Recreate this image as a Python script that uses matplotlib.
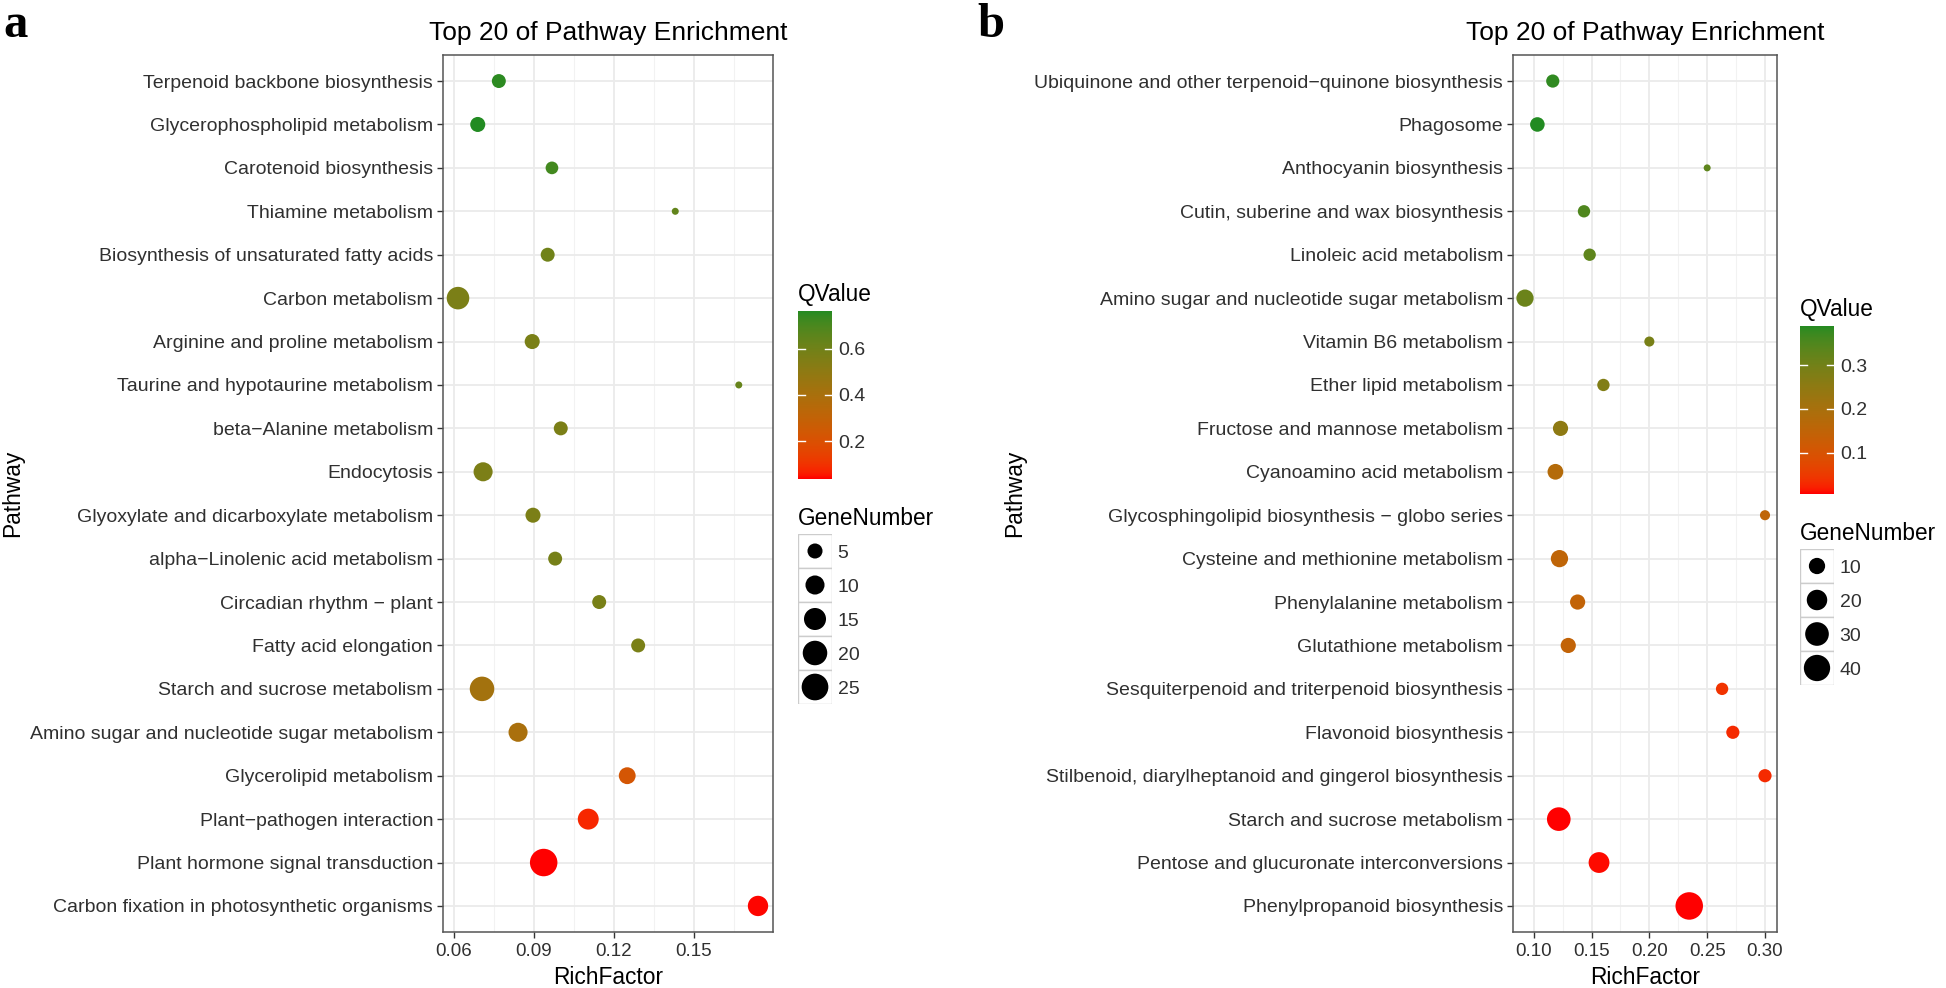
import numpy as np
import matplotlib
matplotlib.use('Agg')
import matplotlib.pyplot as plt
from matplotlib.colors import ListedColormap, Normalize, to_rgb
from matplotlib.patches import Rectangle

plt.rcParams['font.family'] = ['Liberation Sans', 'DejaVu Sans']

# ---- panel a data (top to bottom) ----
a_paths = ["Terpenoid backbone biosynthesis", "Glycerophospholipid metabolism",
           "Carotenoid biosynthesis", "Thiamine metabolism",
           "Biosynthesis of unsaturated fatty acids", "Carbon metabolism",
           "Arginine and proline metabolism", "Taurine and hypotaurine metabolism",
           "beta\u2212Alanine metabolism", "Endocytosis",
           "Glyoxylate and dicarboxylate metabolism", "alpha\u2212Linolenic acid metabolism",
           "Circadian rhythm \u2212 plant", "Fatty acid elongation",
           "Starch and sucrose metabolism", "Amino sugar and nucleotide sugar metabolism",
           "Glycerolipid metabolism", "Plant\u2212pathogen interaction",
           "Plant hormone signal transduction", "Carbon fixation in photosynthetic organisms"]
a_rich = [0.0769, 0.0690, 0.0968, 0.1430, 0.0952, 0.0616, 0.0894, 0.1668, 0.1001, 0.0710,
          0.0897, 0.0980, 0.1145, 0.1291, 0.0706, 0.0841, 0.1250, 0.1104, 0.0937, 0.1740]
a_genes = [4, 5, 3, 1, 4, 16, 5, 1, 4, 10, 5, 4, 4, 4, 20, 10, 7, 13, 27, 12]
a_q = [0.750, 0.764, 0.715, 0.640, 0.600, 0.565, 0.570, 0.630, 0.565, 0.560,
       0.565, 0.580, 0.575, 0.570, 0.420, 0.395, 0.225, 0.075, 0.0355, 0.040]
a_xticks = [0.06, 0.09, 0.12, 0.15]
a_size_breaks = [5, 10, 15, 20, 25]
a_cb_ticks = [0.2, 0.4, 0.6]

# ---- panel b data (top to bottom) ----
b_paths = ["Ubiquinone and other terpenoid\u2212quinone biosynthesis", "Phagosome",
           "Anthocyanin biosynthesis", "Cutin, suberine and wax biosynthesis",
           "Linoleic acid metabolism", "Amino sugar and nucleotide sugar metabolism",
           "Vitamin B6 metabolism", "Ether lipid metabolism",
           "Fructose and mannose metabolism", "Cyanoamino acid metabolism",
           "Glycosphingolipid biosynthesis \u2212 globo series",
           "Cysteine and methionine metabolism", "Phenylalanine metabolism",
           "Glutathione metabolism", "Sesquiterpenoid and triterpenoid biosynthesis",
           "Flavonoid biosynthesis",
           "Stilbenoid, diarylheptanoid and gingerol biosynthesis",
           "Starch and sucrose metabolism", "Pentose and glucuronate interconversions",
           "Phenylpropanoid biosynthesis"]
b_rich = [0.1165, 0.1032, 0.2500, 0.1435, 0.1484, 0.0925, 0.2000, 0.1603, 0.1232, 0.1188,
          0.3000, 0.1223, 0.1380, 0.1299, 0.2629, 0.2722, 0.3000, 0.1217, 0.1565, 0.2345]
b_genes = [5, 7, 1, 4, 4, 12, 2, 4, 8, 9, 2, 12, 8, 8, 4, 5, 5, 30, 21, 45]
b_q = [0.380, 0.389, 0.330, 0.350, 0.330, 0.310, 0.290, 0.275, 0.250, 0.175,
       0.150, 0.150, 0.145, 0.145, 0.040, 0.030, 0.030, 0.0063, 0.010, 0.007]
b_xticks = [0.10, 0.15, 0.20, 0.25, 0.30]
b_size_breaks = [10, 20, 30, 40]
b_cb_ticks = [0.1, 0.2, 0.3]

W, H, DPI = 1946, 988, 100
M = np.array([[0.4124, 0.3576, 0.1805], [0.2126, 0.7152, 0.0722], [0.0193, 0.1192, 0.9505]])
WHITE = np.array([0.95047, 1.0, 1.08883])


def to_lab(rgb):
    rgb = np.asarray(rgb, float)
    lin = np.where(rgb <= 0.04045, rgb / 12.92, ((rgb + 0.055) / 1.055) ** 2.4)
    xyz = lin @ M.T / WHITE
    f = np.where(xyz > 0.008856, np.cbrt(xyz), 7.787 * xyz + 16 / 116)
    return np.array([116 * f[1] - 16, 500 * (f[0] - f[1]), 200 * (f[1] - f[2])])


def from_lab(lab):
    fy = (lab[:, 0] + 16) / 116
    f = np.stack([fy + lab[:, 1] / 500, fy, fy - lab[:, 2] / 200], -1)
    xyz = np.where(f ** 3 > 0.008856, f ** 3, (f - 16 / 116) / 7.787) * WHITE
    lin = np.clip(xyz @ np.linalg.inv(M).T, 0, 1)
    rgb = np.where(lin <= 0.0031308, 12.92 * lin, 1.055 * lin ** (1 / 2.4) - 0.055)
    return np.clip(rgb, 0, 1)


# ggplot-like gradient red -> green, interpolated in Lab
lo, hi = to_lab(to_rgb('#FF0000')), to_lab(to_rgb('#228B22'))
tt = np.linspace(0, 1, 256)[:, None]
cmap = ListedColormap(from_lab(lo + tt * (hi - lo)))


def dot_diam(v, vmin, vmax):
    t = np.clip((np.asarray(v, float) - vmin) / (vmax - vmin), 0, 1)
    return 7.0 + 20.5 * np.sqrt(t)  # pixels


def s_pts(d):
    return (d * 72 / DPI) ** 2


def px_box(x0, y0, x1, y1):
    return [x0 / W, 1 - y1 / H, (x1 - x0) / W, (y1 - y0) / H]


def ftext(x, y, s, **kw):
    fig.text(x / W, 1 - y / H, s, **kw)


fig = plt.figure(figsize=(W / DPI, H / DPI), dpi=DPI)


def draw_panel(paths, rich, genes, qv, box, xticks, fmt, size_breaks, cb_ticks,
               leg_x, leg_dy, letter, letter_x, ylab_x):
    x0, y0, x1, y1 = box
    ax = fig.add_axes(px_box(*box))
    n = len(paths)
    y = np.arange(n)
    rmin, rmax = min(rich), max(rich)
    pad = 0.05 * (rmax - rmin)
    ax.set_xlim(rmin - pad, rmax + pad)
    ax.set_ylim(n - 1 + 0.6, -0.6)
    qmin, qmax = min(qv), max(qv)
    norm = Normalize(qmin, qmax)
    gmin, gmax = min(genes), max(genes)
    ax.scatter(rich, y, s=s_pts(dot_diam(genes, gmin, gmax)), c=qv, cmap=cmap,
               norm=norm, linewidths=0, zorder=3)

    ax.set_yticks(y)
    ax.set_yticklabels(paths, fontsize=14, color='#303030')
    ax.set_xticks(xticks)
    ax.set_xticklabels([fmt.format(v) for v in xticks], fontsize=13.5, color='#303030')
    step = xticks[1] - xticks[0]
    minor = [v for v in np.arange(xticks[0] - step / 2, rmax + pad + step, step)
             if rmin - pad < v < rmax + pad]
    ax.set_xticks(minor, minor=True)
    ax.tick_params(which='minor', length=0)
    ax.tick_params(which='major', length=4.3, width=1.0, color='#333333')
    ax.tick_params(axis='y', pad=2.9)
    ax.tick_params(axis='x', pad=3.6)
    ax.grid(which='major', color='#EBEBEB', lw=1.3)
    ax.grid(which='minor', axis='x', color='#F2F2F2', lw=0.8)
    ax.set_axisbelow(True)
    for sp in ax.spines.values():
        sp.set_color('#555555')
        sp.set_linewidth(1.1)

    cx = (x0 + x1) / 2
    ftext(cx, 40, 'Top 20 of Pathway Enrichment', fontsize=19, ha='center', va='baseline')
    ftext(cx, 984, 'RichFactor', fontsize=16.4, ha='center', va='baseline')
    ftext(ylab_x, (y0 + y1) / 2, 'Pathway', fontsize=16.4, rotation=90,
          ha='center', va='center')
    ftext(letter_x, 37, letter, fontsize=35, fontweight='bold',
          family='Liberation Serif', ha='left', va='baseline')

    # QValue colourbar
    ftext(leg_x, 301 + leg_dy, 'QValue', fontsize=16.3, ha='left', va='baseline')
    cax = fig.add_axes(px_box(leg_x, 311 + leg_dy, leg_x + 34, 479 + leg_dy))
    grad = np.linspace(qmin, qmax, 200).reshape(-1, 1)
    cax.imshow(grad, aspect='auto', cmap=cmap, norm=norm, origin='lower',
               extent=[0, 1, qmin, qmax])
    for t in cb_ticks:
        cax.plot([0, 0.2], [t, t], color='white', lw=1.0)
        cax.plot([0.8, 1], [t, t], color='white', lw=1.0)
    cax.set_xlim(0, 1)
    cax.set_ylim(qmin, qmax)
    cax.set_xticks([])
    cax.set_yticks(cb_ticks)
    cax.set_yticklabels([f'{t:.1f}' for t in cb_ticks], fontsize=14, color='#303030')
    cax.yaxis.tick_right()
    cax.tick_params(length=0, pad=4.5)
    for sp in cax.spines.values():
        sp.set_visible(False)

    # GeneNumber size keys
    k = len(size_breaks)
    ftext(leg_x, 525 + leg_dy, 'GeneNumber', fontsize=16.3, ha='left', va='baseline')
    kax = fig.add_axes(px_box(leg_x, 534 + leg_dy, leg_x + 34, 534 + leg_dy + 34 * k))
    kax.set_xlim(0, 1)
    kax.set_ylim(k, 0)
    for i in range(k):
        kax.add_patch(Rectangle((0, i), 1, 1, facecolor='white', edgecolor='#CCCCCC', lw=1.0))
    kax.scatter([0.5] * k, np.arange(k) + 0.5, s=s_pts(dot_diam(size_breaks, gmin, gmax)),
                color='black', linewidths=0, zorder=3, clip_on=False)
    kax.set_xticks([])
    kax.set_yticks(np.arange(k) + 0.5)
    kax.set_yticklabels([str(v) for v in size_breaks], fontsize=14, color='#303030')
    kax.yaxis.tick_right()
    kax.tick_params(length=0, pad=4)
    for sp in kax.spines.values():
        sp.set_visible(False)


draw_panel(a_paths, a_rich, a_genes, a_q, (443, 55, 773, 932), a_xticks, '{:.2f}',
           a_size_breaks, a_cb_ticks, 798, 0, 'a', 3, 13)
draw_panel(b_paths, b_rich, b_genes, b_q, (1513, 55, 1777, 932), b_xticks, '{:.2f}',
           b_size_breaks, b_cb_ticks, 1800, 15, 'b', 977, 1015)

fig.savefig('out.png', dpi=DPI, facecolor='white')
